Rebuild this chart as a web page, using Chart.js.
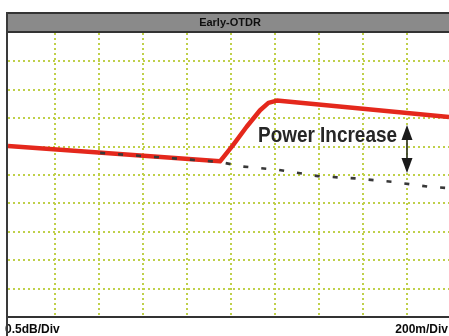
<!DOCTYPE html>
<html>
<head>
<meta charset="utf-8">
<script src="https://cdn.jsdelivr.net/npm/chart.js@4/dist/chart.umd.min.js"></script>
<style>
  html, body { margin: 0; padding: 0; background: #ffffff; overflow: hidden; }
  #wrap { width: 449px; height: 336px; }
</style>
</head>
<body>
<div id="wrap"><canvas id="otdr" width="449" height="336"></canvas></div>
<script>
// Trace title and scale captions
const traceTitle = 'Early-OTDR';
const verticalScaleLabel = '0.5dB/Div';
const horizontalScaleLabel = '200m/Div';
const annotationText = 'Power Increase';

// Distance (m) and relative level (dB) of the measured trace
const traceDistance = [-14, 950, 1010, 1071, 1132, 1170, 1208, 1991];
const traceLevel    = [3.01, 2.74, 3.03, 3.35, 3.64, 3.77, 3.81, 3.52];

// Reference trace (no power increase)
const refDistance = [405, 950, 1049, 1218, 1395, 1564, 1732, 1905, 1991];
const refLevel    = [2.89, 2.73, 2.65, 2.59, 2.48, 2.44, 2.38, 2.29, 2.27];

// Grid divisions
const distanceGrid = [200, 400, 600, 800, 1000, 1200, 1400, 1600, 1800];
const levelGrid    = [0.5, 1.0, 1.5, 2.0, 2.5, 3.0, 3.5, 4.0, 4.5];

// Double-headed marker showing the increase
const markerDistance = 1800;
const markerLevels = [3.38, 2.535];

const toPoints = (xs, ys) => xs.map((x, i) => ({ x, y: ys[i] }));

const GRID = '#bfd04a';

const framePlugin = {
  id: 'frame',
  afterDatasetsDraw(chart) {
    const ctx = chart.ctx;
    const x = chart.scales.x, y = chart.scales.y;
    // arrow
    const ax = x.getPixelForValue(markerDistance);
    const yTop = y.getPixelForValue(markerLevels[0]);
    const yBot = y.getPixelForValue(markerLevels[1]);
    const headLen = 15, headHalf = 5.5;
    ctx.save();
    ctx.strokeStyle = '#3a4228';
    ctx.lineWidth = 1.8;
    ctx.beginPath();
    ctx.moveTo(ax, yTop + headLen - 1);
    ctx.lineTo(ax, yBot - headLen + 1);
    ctx.stroke();
    ctx.fillStyle = '#1a1a1a';
    ctx.beginPath();
    ctx.moveTo(ax, yTop);
    ctx.lineTo(ax - headHalf, yTop + headLen);
    ctx.lineTo(ax + headHalf, yTop + headLen);
    ctx.closePath();
    ctx.fill();
    ctx.beginPath();
    ctx.moveTo(ax, yBot);
    ctx.lineTo(ax - headHalf, yBot - headLen);
    ctx.lineTo(ax + headHalf, yBot - headLen);
    ctx.closePath();
    ctx.fill();

    // annotation text, condensed
    ctx.font = 'bold 22px "Liberation Sans", Arial, sans-serif';
    ctx.fillStyle = '#262626';
    ctx.textBaseline = 'alphabetic';
    const w = ctx.measureText(annotationText).width;
    const targetW = 139;
    ctx.translate(ax - 10 - targetW, 142);
    ctx.scale(targetW / w, 1);
    ctx.fillText(annotationText, 0, 0);
    ctx.restore();
  },
  afterDraw(chart) {
    const ctx = chart.ctx;
    const W = chart.width;
    ctx.save();
    // title bar
    ctx.fillStyle = '#8a8a8a';
    ctx.fillRect(6, 12, W - 6, 21);
    ctx.fillStyle = '#333333';
    ctx.fillRect(6, 12, W - 6, 2);
    ctx.fillRect(6, 31, W - 6, 2);
    ctx.font = 'bold 11px "Liberation Sans", Arial, sans-serif';
    ctx.fillStyle = '#0e0e0e';
    ctx.textAlign = 'center';
    ctx.textBaseline = 'middle';
    ctx.fillText(traceTitle, 230, 23);

    // bottom caption bar
    ctx.fillStyle = '#ffffff';
    ctx.fillRect(6, 317, W - 6, 19);
    ctx.fillStyle = '#333333';
    ctx.fillRect(6, 316, W - 6, 2);
    ctx.font = 'bold 12px "Liberation Sans", Arial, sans-serif';
    ctx.fillStyle = '#0a0a0a';
    ctx.textBaseline = 'alphabetic';
    ctx.textAlign = 'left';
    ctx.fillText(verticalScaleLabel, 5, 333);
    ctx.textAlign = 'right';
    ctx.fillText(horizontalScaleLabel, 448, 333);

    // left frame edge
    ctx.fillStyle = '#3a3a3a';
    ctx.fillRect(6, 12, 2, 324);
    ctx.restore();
  }
};

new Chart(document.getElementById('otdr'), {
  type: 'line',
  data: {
    datasets: [
      {
        data: toPoints(refDistance, refLevel),
        borderColor: '#383838',
        borderWidth: 2.6,
        borderDash: [5, 13],
        pointRadius: 0,
        tension: 0,
        fill: false
      },
      {
        data: toPoints(traceDistance, traceLevel),
        borderColor: '#e4281c',
        borderWidth: 4.5,
        borderJoinStyle: 'round',
        pointRadius: 0,
        tension: 0,
        fill: false
      }
    ]
  },
  options: {
    responsive: false,
    animation: false,
    events: [],
    layout: { padding: { left: 8, top: 33, right: 0, bottom: 19 } },
    plugins: { legend: { display: false }, title: { display: false }, tooltip: { enabled: false } },
    scales: {
      x: {
        type: 'linear',
        min: -14,
        max: 1991,
        afterBuildTicks: s => { s.ticks = distanceGrid.map(v => ({ value: v })); },
        afterFit: s => { s.height = 0; },
        ticks: { display: false },
        grid: { color: GRID, lineWidth: 2, drawTicks: false },
        border: { display: false, dash: [2, 3] }
      },
      y: {
        type: 'linear',
        min: 0,
        max: 5,
        afterBuildTicks: s => { s.ticks = levelGrid.map(v => ({ value: v })); },
        afterFit: s => { s.width = 0; },
        ticks: { display: false },
        grid: { color: GRID, lineWidth: 2, drawTicks: false },
        border: { display: false, dash: [2, 3] }
      }
    }
  },
  plugins: [framePlugin]
});
</script>
</body>
</html>
